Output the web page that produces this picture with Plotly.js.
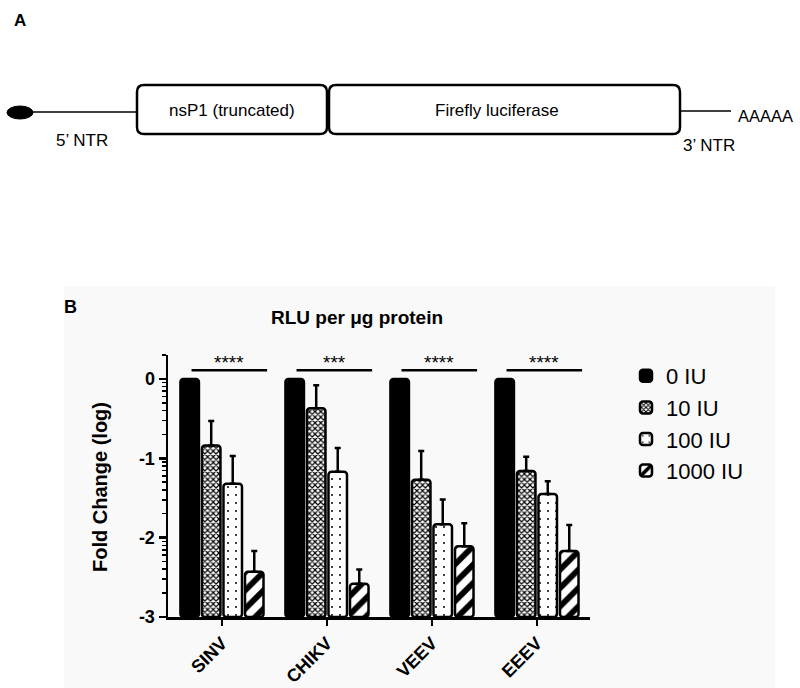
<!DOCTYPE html>
<html>
<head>
<meta charset="utf-8">
<script src="https://cdn.plot.ly/plotly-3.0.1.min.js"></script>
<style>
  body { margin: 0; background: #fff; }
  #chart { width: 800px; height: 688px; }
</style>
</head>
<body>
<div id="chart"></div>
<script>
// data (log10 fold change, mean and SEM)
const viruses = ['SINV', 'CHIKV', 'VEEV', 'EEEV'];
const doses = ['0 IU', '10 IU', '100 IU', '1000 IU'];
const logFC_0 = [0, 0, 0, 0];
const logFC_10 = [-0.84, -0.37, -1.27, -1.16];
const logFC_100 = [-1.32, -1.17, -1.83, -1.45];
const logFC_1000 = [-2.43, -2.58, -2.11, -2.17];
const sem_0 = [0, 0, 0, 0];
const sem_10 = [0.31, 0.29, 0.36, 0.18];
const sem_100 = [0.35, 0.30, 0.31, 0.16];
const sem_1000 = [0.26, 0.18, 0.29, 0.33];
const sigLabels = ['****', '***', '****', '****'];
const yTicks = [0, -1, -2, -3];
const axisFloor = -3;

const FONT = 'Liberation Sans, Arial, sans-serif';

// pixel -> paper helpers (margins are 0 so paper == page)
const W = 800, H = 688;
const px = p => p / W;
const py = p => 1 - p / H;

const patterns = [
  null,
  {shape: 'x', size: 4, solidity: 0.5, fgcolor: '#000', bgcolor: '#fff', fillmode: 'replace'},
  {shape: '.', size: 8, solidity: 0.05, fgcolor: '#000', bgcolor: '#fff', fillmode: 'replace'},
  {shape: '/', size: 13, solidity: 0.45, fgcolor: '#000', bgcolor: '#fff', fillmode: 'replace'}
];
const means = [logFC_0, logFC_10, logFC_100, logFC_1000];
const sems = [sem_0, sem_10, sem_100, sem_1000];

let traces = doses.map((d, i) => {
  let t = {
    type: 'bar',
    name: d,
    x: viruses,
    y: means[i].map(v => v - axisFloor),
    base: axisFloor,
    marker: {
      color: i === 0 ? '#000' : '#fff',
      line: {color: '#000', width: 2.5},
      cornerradius: 3
    },
    hoverinfo: 'skip'
  };
  if (patterns[i]) t.marker.pattern = patterns[i];
  if (i > 0) {
    t.error_y = {
      type: 'data', symmetric: false,
      array: sems[i], arrayminus: sems[i].map(() => 0),
      color: '#000', thickness: 2.5, width: 3
    };
  }
  return t;
});

// log-style minor ticks between the decades
let minorVals = [Math.log10(2)];
for (let dec = 0; dec > -3; dec--) {
  for (let k = 2; k <= 9; k++) minorVals.push(dec - 1 + Math.log10(k));
}

// rounded box for the construct diagram, pixel coords -> paper path
function roundBox(x0, y0, x1, y1, r) {
  return 'M' + px(x0 + r) + ',' + py(y0) +
    ' L' + px(x1 - r) + ',' + py(y0) +
    ' Q' + px(x1) + ',' + py(y0) + ' ' + px(x1) + ',' + py(y0 + r) +
    ' L' + px(x1) + ',' + py(y1 - r) +
    ' Q' + px(x1) + ',' + py(y1) + ' ' + px(x1 - r) + ',' + py(y1) +
    ' L' + px(x0 + r) + ',' + py(y1) +
    ' Q' + px(x0) + ',' + py(y1) + ' ' + px(x0) + ',' + py(y1 - r) +
    ' L' + px(x0) + ',' + py(y0 + r) +
    ' Q' + px(x0) + ',' + py(y0) + ' ' + px(x0 + r) + ',' + py(y0) + ' Z';
}

let shapes = [
  // panel B light background
  {type: 'rect', xref: 'paper', yref: 'paper', layer: 'below',
   x0: px(64), x1: px(775), y0: py(688), y1: py(286),
   fillcolor: '#f9f9f9', line: {width: 0}},
  // panel A construct
  {type: 'circle', xref: 'paper', yref: 'paper',
   x0: px(7), x1: px(33), y0: py(119), y1: py(106),
   fillcolor: '#000', line: {color: '#000', width: 1}},
  {type: 'line', xref: 'paper', yref: 'paper',
   x0: px(33), x1: px(137), y0: py(112), y1: py(112), line: {color: '#000', width: 1.5}},
  {type: 'path', xref: 'paper', yref: 'paper', path: roundBox(137, 85, 327, 134, 7),
   line: {color: '#000', width: 2.5}},
  {type: 'path', xref: 'paper', yref: 'paper', path: roundBox(329, 85, 680, 134, 7),
   line: {color: '#000', width: 2.5}},
  {type: 'line', xref: 'paper', yref: 'paper',
   x0: px(680), x1: px(731), y0: py(111), y1: py(111), line: {color: '#000', width: 1.5}}
];

let annotations = [
  {text: 'A', x: px(20), y: py(20), font: {size: 17, weight: 'bold'}},
  {text: 'nsP1 (truncated)', x: px(232), y: py(110), font: {size: 17}},
  {text: 'Firefly luciferase', x: px(497), y: py(110), font: {size: 17}},
  {text: '5’ NTR', x: px(82), y: py(140), font: {size: 17}},
  {text: '3’ NTR', x: px(709), y: py(145), font: {size: 17}},
  {text: 'AAAAA', x: px(765), y: py(116), font: {size: 16.5}},
  {text: 'B', x: px(70), y: py(307), font: {size: 18, weight: 'bold'}},
  {text: 'RLU per μg protein', x: px(357), y: py(318), font: {size: 19, weight: 'bold'}},
  {text: 'Fold Change (log)', x: px(100), y: py(487), textangle: -90, font: {size: 20, weight: 'bold'}}
].map(a => Object.assign({xref: 'paper', yref: 'paper', showarrow: false,
  xanchor: 'center', yanchor: 'middle'}, a, {font: Object.assign({family: FONT, color: '#000'}, a.font)}));

// significance bars over each group
viruses.forEach((v, i) => {
  shapes.push({type: 'line', xref: 'x', yref: 'y',
    x0: i - 0.29, x1: i + 0.43, y0: 0.11, y1: 0.11, line: {color: '#000', width: 2.5}});
  annotations.push({xref: 'x', yref: 'y', x: i + 0.07, y: 0.21, text: sigLabels[i],
    showarrow: false, font: {family: FONT, size: 19, color: '#000'}});
});

let layout = {
  width: W, height: H,
  margin: {l: 0, r: 0, t: 0, b: 0},
  paper_bgcolor: '#fff',
  plot_bgcolor: 'rgba(0,0,0,0)',
  font: {family: FONT, color: '#000'},
  barmode: 'group',
  bargap: 0.18,
  bargroupgap: 0.14,
  xaxis: {
    domain: [px(168), px(590)],
    range: [-0.514, 3.505],
    showline: true, linecolor: '#000', linewidth: 2.5,
    ticks: 'outside', ticklen: 6, tickwidth: 2.5, tickcolor: '#000',
    tickangle: -45,
    tickfont: {family: FONT, size: 18, weight: 'bold'},
    showgrid: false, zeroline: false, fixedrange: true
  },
  yaxis: {
    domain: [1 - 617 / H, 1 - 355 / H],
    range: [axisFloor, Math.log10(2)],
    tickmode: 'array', tickvals: yTicks, ticktext: yTicks.map(String),
    showline: true, linecolor: '#000', linewidth: 2.5,
    ticks: 'outside', ticklen: 7, tickwidth: 2.5, tickcolor: '#000',
    minor: {tickmode: 'array', tickvals: minorVals, ticks: 'outside', ticklen: 4,
            tickwidth: 1.5, tickcolor: '#000', showgrid: false},
    tickfont: {family: FONT, size: 18, weight: 'bold'},
    showgrid: false, zeroline: false, fixedrange: true
  },
  legend: {
    x: px(626), y: py(355), xanchor: 'left', yanchor: 'top',
    bgcolor: 'rgba(0,0,0,0)',
    font: {family: FONT, size: 22},
    tracegroupgap: 0
  },
  shapes: shapes,
  annotations: annotations
};

Plotly.newPlot('chart', traces, layout, {displayModeBar: false, staticPlot: true});
</script>
</body>
</html>
